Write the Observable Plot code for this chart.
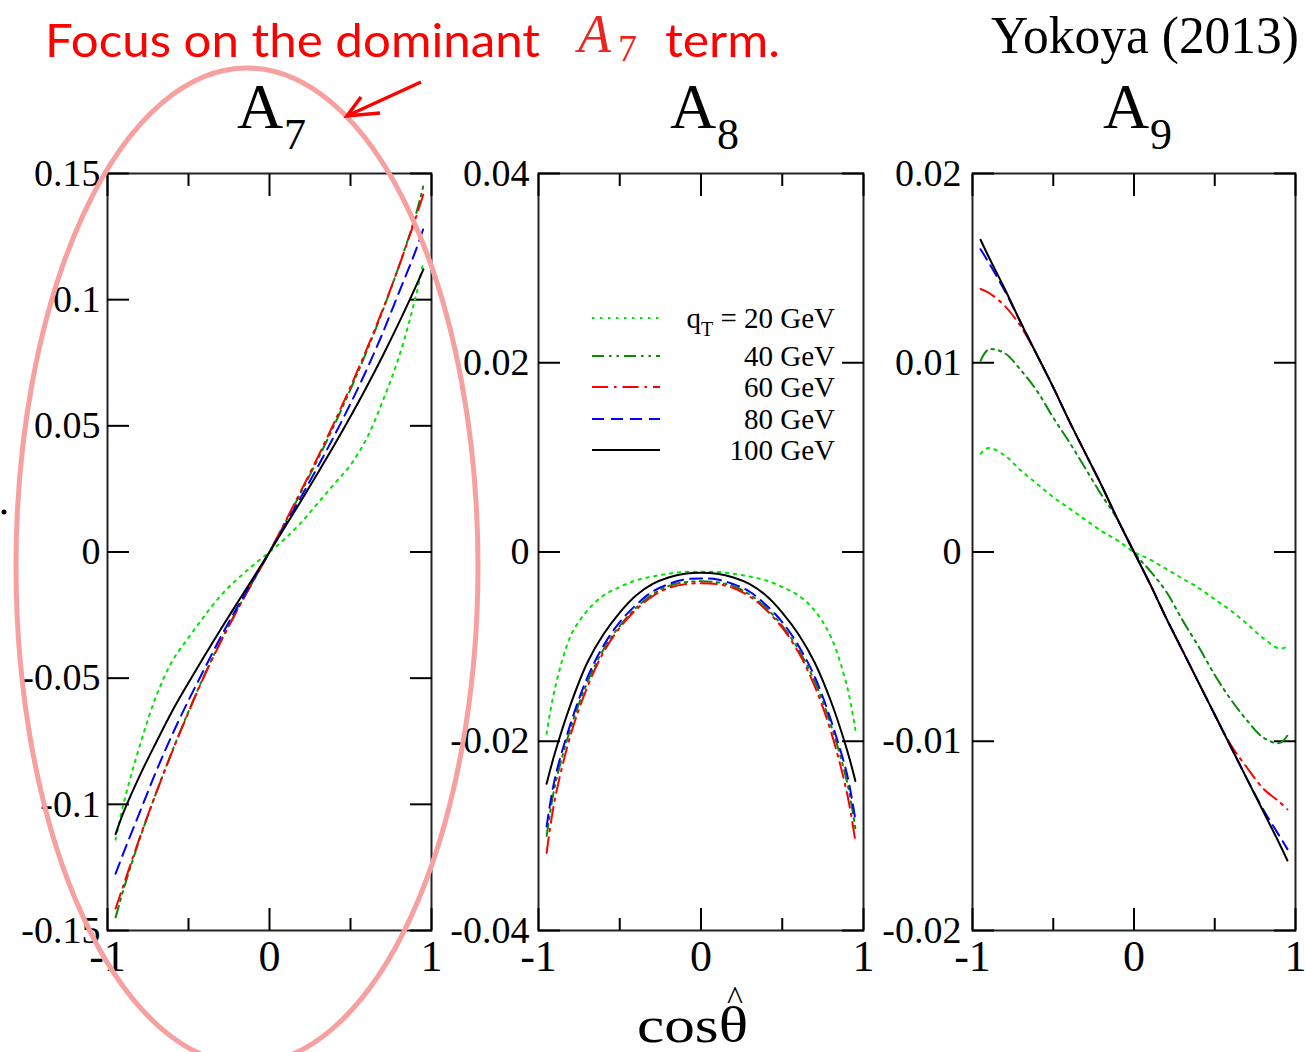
<!DOCTYPE html>
<html>
<head>
<meta charset="utf-8">
<script src="https://cdn.jsdelivr.net/npm/d3@7"></script>
<script src="https://cdn.jsdelivr.net/npm/@observablehq/plot@0.6"></script>
<style>
  html, body { margin: 0; padding: 0; background: #fff; }
  #wrap { position: relative; width: 1306px; height: 1052px; overflow: hidden; background: #fff; }
  #wrap > svg { position: absolute; top: 0; }
</style>
</head>
<body>
<div id="wrap"></div>
<script>
// ---------------- data ----------------
const cosTheta = [-0.95, -0.9, -0.8, -0.7, -0.6, -0.5, -0.4, -0.3, -0.2, -0.1, 0, 0.1, 0.2, 0.3, 0.4, 0.5, 0.6, 0.7, 0.8, 0.9, 0.95];
const qTLabels = ["20 GeV", "40 GeV", "60 GeV", "80 GeV", "100 GeV"];

// A7
const a7_q20  = [-0.1140, -0.0995, -0.0766, -0.0572, -0.0432, -0.0340, -0.0252, -0.0172, -0.0108, -0.0052, 0, 0.0055, 0.0120, 0.0195, 0.0270, 0.0345, 0.0450, 0.0600, 0.0775, 0.1005, 0.1150];
const a7_q40  = [-0.1448, -0.1335, -0.1135, -0.0955, -0.0788, -0.0632, -0.0485, -0.0352, -0.0230, -0.0114, 0, 0.0120, 0.0243, 0.0370, 0.0503, 0.0645, 0.0795, 0.0958, 0.1135, 0.1330, 0.1452];
const a7_q60  = [-0.1413, -0.1318, -0.1130, -0.0955, -0.0790, -0.0635, -0.0488, -0.0355, -0.0232, -0.0115, 0, 0.0124, 0.0250, 0.0379, 0.0514, 0.0655, 0.0804, 0.0963, 0.1134, 0.1319, 0.1417];
const a7_q80  = [-0.1275, -0.1190, -0.1030, -0.0870, -0.0723, -0.0588, -0.0461, -0.0335, -0.0220, -0.0110, 0, 0.0111, 0.0224, 0.0340, 0.0461, 0.0588, 0.0723, 0.0870, 0.1030, 0.1190, 0.1282];
const a7_q100 = [-0.1118, -0.1030, -0.0885, -0.0755, -0.0630, -0.0518, -0.0410, -0.0305, -0.0203, -0.0102, 0, 0.0104, 0.0208, 0.0315, 0.0424, 0.0537, 0.0655, 0.0779, 0.0910, 0.1048, 0.1120];

// A8
const a8_q20  = [-0.0192, -0.0145, -0.0088, -0.0062, -0.0046, -0.0037, -0.0030, -0.0026, -0.0023, -0.0021, -0.0021, -0.0021, -0.0023, -0.0026, -0.0030, -0.0037, -0.0046, -0.0062, -0.0090, -0.0143, -0.0188];
const a8_q40  = [-0.0300, -0.0248, -0.0185, -0.0138, -0.0103, -0.0078, -0.0059, -0.0045, -0.0036, -0.0032, -0.0031, -0.0032, -0.0036, -0.0045, -0.0059, -0.0078, -0.0103, -0.0137, -0.0183, -0.0244, -0.0292];
const a8_q60  = [-0.0318, -0.0262, -0.0192, -0.0143, -0.0106, -0.0080, -0.0061, -0.0047, -0.0038, -0.0034, -0.0033, -0.0034, -0.0038, -0.0047, -0.0061, -0.0080, -0.0106, -0.0142, -0.0190, -0.0256, -0.0306];
const a8_q80  = [-0.0290, -0.0240, -0.0180, -0.0133, -0.0099, -0.0074, -0.0056, -0.0042, -0.0034, -0.0029, -0.0028, -0.0029, -0.0034, -0.0042, -0.0056, -0.0074, -0.0099, -0.0132, -0.0178, -0.0236, -0.0283];
const a8_q100 = [-0.0245, -0.0213, -0.0160, -0.0117, -0.0087, -0.0064, -0.0046, -0.0034, -0.0027, -0.0023, -0.0022, -0.0023, -0.0027, -0.0034, -0.0046, -0.0064, -0.0087, -0.0117, -0.0158, -0.0210, -0.0242];

// A9
const a9_q20  = [0.0052, 0.0055, 0.0051, 0.0043, 0.0036, 0.0029, 0.0023, 0.0017, 0.0011, 0.0006, 0, -0.0004, -0.0009, -0.0014, -0.0019, -0.0025, -0.0031, -0.0038, -0.00455, -0.0051, -0.0050];
const a9_q40  = [0.0101, 0.0107, 0.0105, 0.0096, 0.0085, 0.0071, 0.0058, 0.0044, 0.0030, 0.0017, 0, -0.0010, -0.0021, -0.0036, -0.0050, -0.0065, -0.0078, -0.0089, -0.0098, -0.0101, -0.0097];
const a9_q60  = [0.0139, 0.0137, 0.0130, 0.0119, 0.0104, 0.0087, 0.0069, 0.0052, 0.0035, 0.0017, 0, -0.0017, -0.0035, -0.0052, -0.0069, -0.0086, -0.0102, -0.0114, -0.0125, -0.0132, -0.0136];
const a9_q80  = [0.0160, 0.0153, 0.0138, 0.0121, 0.0104, 0.0087, 0.0069, 0.0052, 0.0035, 0.0017, 0, -0.0017, -0.0035, -0.0052, -0.0069, -0.0086, -0.0103, -0.0120, -0.0136, -0.0150, -0.0157];
const a9_q100 = [0.0165, 0.0156, 0.0139, 0.0121, 0.0104, 0.0087, 0.0069, 0.0052, 0.0035, 0.0017, 0, -0.0017, -0.0035, -0.0052, -0.0069, -0.0086, -0.0103, -0.0120, -0.0137, -0.0154, -0.0163];

// ticks
const a7Ticks = [-0.15, -0.1, -0.05, 0, 0.05, 0.1, 0.15];
const a8Ticks = [-0.04, -0.02, 0, 0.02, 0.04];
const a9Ticks = [-0.02, -0.01, 0, 0.01, 0.02];
const xMajorTicks = [-1, 0, 1];
const xMinorTicks = [-0.5, 0.5];
const panelSubscripts = ["7", "8", "9"];

// ---------------- styles ----------------
const lineStyles = [
  {color: "#00e400", dash: "2.5,5.5"},
  {color: "#0a8a0a", dash: "12,5,2.5,5,2.5,5"},
  {color: "#ff0000", dash: "16,6,2.5,6"},
  {color: "#0000ff", dash: "12,7"},
  {color: "#000000", dash: undefined}
];
const serif = "'Liberation Serif', 'Times New Roman', serif";
const wrap = document.getElementById("wrap");

function makePanel(series, yDomain, yTicks, geo) {
  const marks = [
    Plot.frame({stroke: "#222", strokeWidth: 2}),
    Plot.axisY(yTicks, {anchor: "left", label: null, tickSize: -22, tickPadding: 22 + geo.gap, tickFormat: d => String(d), fontSize: 38, strokeWidth: 2}),
    Plot.axisY(yTicks, {anchor: "right", label: null, tickSize: -22, tickFormat: () => "", strokeWidth: 2}),
    Plot.axisX(xMajorTicks, {anchor: "bottom", label: null, tickSize: -22, tickPadding: 22 + 9, tickFormat: d => String(d), fontSize: 44, strokeWidth: 2}),
    Plot.axisX(xMajorTicks, {anchor: "top", label: null, tickSize: -22, tickFormat: () => "", strokeWidth: 2}),
    Plot.axisX(xMinorTicks, {anchor: "bottom", label: null, tickSize: -12, tickFormat: () => "", strokeWidth: 2}),
    Plot.axisX(xMinorTicks, {anchor: "top", label: null, tickSize: -12, tickFormat: () => "", strokeWidth: 2})
  ];
  series.forEach((arr, i) => {
    const rows = cosTheta.map((x, j) => ({x, y: arr[j]}));
    marks.push(Plot.line(rows, {
      x: "x", y: "y",
      stroke: lineStyles[i].color,
      strokeWidth: 2,
      strokeDasharray: lineStyles[i].dash,
      curve: "catmull-rom"
    }));
  });
  const svg = Plot.plot({
    width: geo.width,
    height: 1052,
    marginTop: 173,
    marginBottom: 122,
    marginLeft: geo.marginLeft,
    marginRight: geo.marginRight,
    style: {background: "none", overflow: "visible", fontFamily: serif, color: "#000"},
    x: {domain: [-1, 1], label: null},
    y: {domain: yDomain, label: null},
    marks
  });
  svg.style.position = "absolute";
  svg.style.left = geo.left + "px";
  svg.style.top = "0px";
  wrap.appendChild(svg);
}

makePanel([a7_q20, a7_q40, a7_q60, a7_q80, a7_q100], [-0.15, 0.15], a7Ticks, {left: 0, width: 451, marginLeft: 107, marginRight: 20, gap: 7});
makePanel([a8_q20, a8_q40, a8_q60, a8_q80, a8_q100], [-0.04, 0.04], a8Ticks, {left: 440, width: 443, marginLeft: 98, marginRight: 20, gap: 9});
makePanel([a9_q20, a9_q40, a9_q60, a9_q80, a9_q100], [-0.02, 0.02], a9Ticks, {left: 870, width: 436, marginLeft: 102, marginRight: 11, gap: 11});

// ---------------- overlay: titles, legend, annotations ----------------
const ov = d3.select(wrap).append("svg")
  .attr("width", 1306).attr("height", 1052)
  .style("left", "0px").style("top", "0px").style("position", "absolute");

// panel titles
const titleX = [237, 670, 1103];
panelSubscripts.forEach((s, i) => {
  ov.append("text").attr("x", titleX[i]).attr("y", 128).attr("font-family", serif).attr("font-size", 64).text("A");
  ov.append("text").attr("x", titleX[i] + 47).attr("y", 149).attr("font-family", serif).attr("font-size", 44).text(s);
});

// legend
const legendY = [318, 356, 387, 419, 450];
qTLabels.forEach((lab, i) => {
  const st = lineStyles[i];
  ov.append("line").attr("x1", 592).attr("x2", 660).attr("y1", legendY[i]).attr("y2", legendY[i])
    .attr("stroke", st.color).attr("stroke-width", 2).attr("stroke-dasharray", st.dash || null);
  const t = ov.append("text").attr("x", 835).attr("y", legendY[i] + 10).attr("text-anchor", "end")
    .attr("font-family", serif).attr("font-size", 29);
  if (i === 0) {
    t.append("tspan").text("q");
    t.append("tspan").attr("font-size", 20).attr("dy", 8).text("T");
    t.append("tspan").attr("dy", -8).text(" = " + lab);
  } else {
    t.text(lab);
  }
});

// x-axis title: cos theta-hat
ov.append("text").attr("x", 637).attr("y", 1042).attr("font-family", serif).attr("font-size", 50)
  .attr("textLength", 111).attr("lengthAdjust", "spacingAndGlyphs").text("cosθ");
ov.append("text").attr("x", 735).attr("y", 1009).attr("text-anchor", "middle").attr("font-family", serif)
  .attr("font-size", 34).text("^");

// annotations
const sans = "Lato, 'Open Sans', 'Noto Sans', sans-serif";
ov.append("text").attr("x", 45).attr("y", 57).attr("font-family", sans).attr("font-size", 47).attr("fill", "#ff0000")
  .attr("textLength", 495).attr("lengthAdjust", "spacingAndGlyphs").text("Focus on the dominant");
ov.append("text").attr("x", 578).attr("y", 52).attr("font-family", serif).attr("font-style", "italic")
  .attr("font-size", 54).attr("fill", "#e8261f").text("A");
ov.append("text").attr("x", 618).attr("y", 61).attr("font-family", serif)
  .attr("font-size", 38).attr("fill", "#e8261f").text("7");
ov.append("text").attr("x", 665).attr("y", 57).attr("font-family", sans).attr("font-size", 47).attr("fill", "#ff0000")
  .attr("textLength", 115).attr("lengthAdjust", "spacingAndGlyphs").text("term.");
ov.append("text").attr("x", 991).attr("y", 53).attr("font-family", serif).attr("font-size", 52)
  .attr("textLength", 308).attr("lengthAdjust", "spacingAndGlyphs").text("Yokoya (2013)");

// pink ellipse and red arrow
ov.append("ellipse").attr("cx", 247).attr("cy", 566).attr("rx", 231).attr("ry", 498)
  .attr("fill", "none").attr("stroke", "#f7a0a0").attr("stroke-width", 5);
ov.append("line").attr("x1", 421).attr("y1", 82).attr("x2", 349).attr("y2", 115)
  .attr("stroke", "#ff0000").attr("stroke-width", 3.5);
ov.append("polyline").attr("points", "361,97 347,116 380,113")
  .attr("fill", "none").attr("stroke", "#ff0000").attr("stroke-width", 3.5).attr("stroke-linejoin", "miter");

// stray dot at left edge
ov.append("circle").attr("cx", 4).attr("cy", 512).attr("r", 2.5).attr("fill", "#000");
</script>
</body>
</html>
